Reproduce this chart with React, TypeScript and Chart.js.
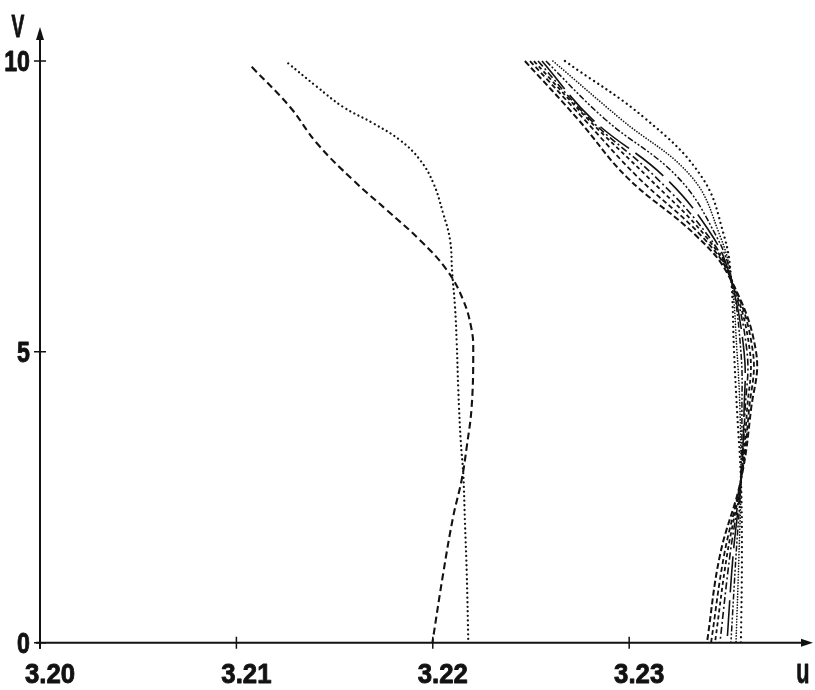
import { useEffect, useRef } from 'react';
import { Chart, registerables } from 'chart.js';

Chart.register(...registerables);

// Tick labels
const xTickValues = [3.2, 3.21, 3.22, 3.23];
const xTickLabels = ['3.20', '3.21', '3.22', '3.23'];
const yTickValues = [0, 5, 10];
const yTickLabels = ['0', '5', '10'];

// Left pair of curves
const leftDashedV = [9.9, 9.21, 8.59, 7.95, 7.44, 6.92, 6.41, 5.89, 5.38, 5.03, 4.06, 3.37, 2.8, 2.17, 1.19, 0];
const leftDashedU = [3.21078, 3.21273, 3.21409, 3.21595, 3.21765, 3.21935, 3.22071, 3.22155, 3.22198, 3.22206, 3.22198, 3.22173, 3.22147, 3.22104, 3.22053, 3.21998];

const leftDottedV = [9.96, 9.56, 9.21, 8.93, 8.64, 8.3, 7.9, 7.38, 6.92, 6.35, 5.78, 5.15, 4.34, 3.48, 2.91, 2.05, 1.19, 0];
const leftDottedU = [3.21264, 3.21409, 3.21544, 3.21697, 3.21833, 3.21935, 3.22003, 3.22053, 3.22088, 3.22099, 3.22113, 3.22122, 3.2213, 3.22142, 3.22155, 3.22164, 3.22173, 3.22181];

// Right-hand bundle of curves, sampled at common v levels
const clusterV = [10, 9, 8, 7, 6.3, 5, 4, 2.8, 1.5, 0];
const cluster1U = [3.22469, 3.22739, 3.22989, 3.2334, 3.23508, 3.23646, 3.2362, 3.23569, 3.23462, 3.23396];
const cluster2U = [3.22495, 3.2277, 3.23045, 3.23366, 3.23513, 3.2363, 3.2361, 3.23569, 3.23483, 3.23417];
const cluster3U = [3.22515, 3.2279, 3.23096, 3.23386, 3.23513, 3.23615, 3.236, 3.23569, 3.23498, 3.23437];
const cluster4U = [3.22536, 3.228, 3.23136, 3.23401, 3.23513, 3.236, 3.2359, 3.23569, 3.23513, 3.23462];
const cluster5U = [3.22556, 3.22811, 3.23182, 3.23422, 3.23513, 3.23585, 3.23585, 3.23569, 3.23529, 3.23498];
const cluster6U = [3.22576, 3.22877, 3.23248, 3.23442, 3.23518, 3.23569, 3.23574, 3.23569, 3.23544, 3.23518];
const cluster7U = [3.22612, 3.22958, 3.2332, 3.23462, 3.23518, 3.23549, 3.23564, 3.23569, 3.23559, 3.23544];
const cluster8U = [3.22673, 3.23086, 3.23371, 3.23483, 3.23518, 3.23534, 3.23549, 3.23569, 3.23574, 3.23569];

const U_MIN = 3.2;
const U_MAX = 3.23936;
const V_MIN = 0;
const V_MAX = 10.585;

const INK = '#121212';
const LABEL_FONT = "'Liberation Sans', Arial, sans-serif";

function pts(us: number[], vs: number[]) {
  return vs.map((v, i) => ({ x: us[i], y: v }));
}

function line(data: { x: number; y: number }[], dash: number[], width: number, cap: CanvasLineCap = 'butt') {
  return {
    data,
    showLine: true,
    borderColor: INK,
    borderWidth: width,
    borderDash: dash,
    borderCapStyle: cap,
    pointRadius: 0,
    pointHoverRadius: 0,
    tension: 0.4,
    fill: false,
  };
}

function squeezedText(ctx: CanvasRenderingContext2D, text: string, x: number, y: number, sx: number, align: CanvasTextAlign) {
  ctx.save();
  ctx.translate(x, y);
  ctx.scale(sx, 1);
  ctx.textAlign = align;
  ctx.textBaseline = 'alphabetic';
  ctx.lineWidth = 0.9;
  ctx.lineJoin = 'round';
  ctx.fillText(text, 0, 0);
  ctx.strokeText(text, 0, 0);
  ctx.restore();
}

const axisPlugin = {
  id: 'axisPlugin',
  afterDraw(chart: any) {
    const ctx = chart.ctx as CanvasRenderingContext2D;
    const xs = chart.scales.x;
    const ys = chart.scales.y;
    const x0 = xs.getPixelForValue(U_MIN);
    const y0 = ys.getPixelForValue(V_MIN);
    const xEnd = xs.getPixelForValue(U_MAX);
    const yEnd = ys.getPixelForValue(V_MAX);
    ctx.save();
    ctx.strokeStyle = INK;
    ctx.fillStyle = INK;
    ctx.lineWidth = 2;
    ctx.setLineDash([]);
    // axis lines
    ctx.beginPath();
    ctx.moveTo(x0, y0 + 6);
    ctx.lineTo(x0, yEnd + 8);
    ctx.moveTo(x0 - 4, y0);
    ctx.lineTo(xEnd - 8, y0);
    ctx.stroke();
    // arrowheads
    ctx.beginPath();
    ctx.moveTo(x0, yEnd);
    ctx.lineTo(x0 - 4, yEnd + 13);
    ctx.lineTo(x0 + 4, yEnd + 13);
    ctx.closePath();
    ctx.fill();
    ctx.beginPath();
    ctx.moveTo(xEnd, y0);
    ctx.lineTo(xEnd - 12, y0 - 4);
    ctx.lineTo(xEnd - 12, y0 + 4);
    ctx.closePath();
    ctx.fill();
    // tick marks (crossing the axes)
    ctx.lineWidth = 1.5;
    ctx.beginPath();
    xTickValues.forEach((t) => {
      const px = xs.getPixelForValue(t);
      ctx.moveTo(px, y0 - 6);
      ctx.lineTo(px, y0 + 6);
    });
    yTickValues.forEach((t) => {
      const py = ys.getPixelForValue(t);
      ctx.moveTo(x0 - 6, py);
      ctx.lineTo(x0 + 6, py);
    });
    ctx.stroke();
    // tick labels
    ctx.font = `bold 28px ${LABEL_FONT}`;
    xTickValues.forEach((t, i) => {
      const px = xs.getPixelForValue(t);
      squeezedText(ctx, xTickLabels[i], px + 10, y0 + 40, 0.92, 'center');
    });
    ctx.font = `bold 29px ${LABEL_FONT}`;
    yTickValues.forEach((t, i) => {
      const py = ys.getPixelForValue(t);
      squeezedText(ctx, yTickLabels[i], 30, py + 10, 0.8, 'right');
    });
    // axis names
    ctx.font = `bold 32px ${LABEL_FONT}`;
    squeezedText(ctx, 'V', 18, 37, 0.6, 'center');
    ctx.font = `bold 35px ${LABEL_FONT}`;
    squeezedText(ctx, 'u', 803, 683, 0.62, 'center');
    ctx.restore();
  },
};

export default function App() {
  const ref = useRef<HTMLCanvasElement | null>(null);

  useEffect(() => {
    if (!ref.current) return;
    const chart = new Chart(ref.current, {
      type: 'scatter',
      data: {
        datasets: [
          line(pts(leftDashedU, leftDashedV), [7, 4], 2.1),
          line(pts(leftDottedU, leftDottedV), [0.01, 4.6], 2.3, 'round'),
          line(pts(cluster1U, clusterV), [6, 3], 2),
          line(pts(cluster2U, clusterV), [5, 3], 1.8),
          line(pts(cluster3U, clusterV), [4, 3], 1.8),
          line(pts(cluster4U, clusterV), [7, 3, 2, 3], 1.6),
          line(pts(cluster5U, clusterV), [36, 8], 1.6),
          line(pts(cluster6U, clusterV), [6, 2, 2, 2, 2, 2], 1.5),
          line(pts(cluster7U, clusterV), [0.01, 2.8], 1.7, 'round'),
          line(pts(cluster8U, clusterV), [0.01, 5], 2.3, 'round'),
        ] as any,
      },
      options: {
        animation: false,
        responsive: false,
        maintainAspectRatio: false,
        layout: { padding: { top: 27, right: 2, left: 40, bottom: 47.3 } },
        plugins: {
          legend: { display: false },
          tooltip: { enabled: false },
          title: { display: false },
        },
        events: [],
        scales: {
          x: {
            type: 'linear',
            display: false,
            min: U_MIN,
            max: U_MAX,
          },
          y: {
            type: 'linear',
            display: false,
            min: V_MIN,
            max: V_MAX,
          },
        },
      } as any,
      plugins: [axisPlugin],
    });
    return () => chart.destroy();
  }, []);

  return (
    <div style={{ position: 'absolute', left: 0, top: 0, width: 815, height: 690, background: '#fff' }}>
      <canvas ref={ref} width={815} height={690} style={{ width: 815, height: 690, display: 'block' }} />
    </div>
  );
}
